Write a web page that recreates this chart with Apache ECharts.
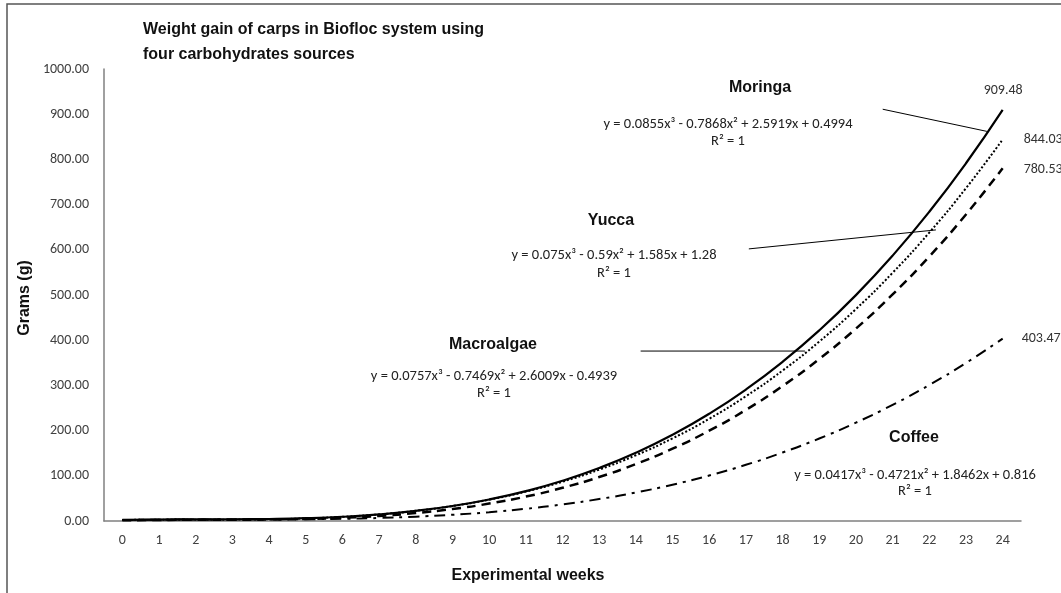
<!DOCTYPE html>
<html>
<head>
<meta charset="utf-8">
<script src="https://cdn.jsdelivr.net/npm/echarts@6/dist/echarts.min.js"></script>
<style>
html,body{margin:0;padding:0;background:#fff;}
#chart{width:1061px;height:593px;}
</style>
</head>
<body>
<div id="chart"></div>
<script>
// ---- data ----
const weeks = ['0','1','2','3','4','5','6','7','8','9','10','11','12','13','14','15','16','17','18','19','20','21','22','23','24'];
const moringa = [2.39,3.22,3.50,3.75,4.48,6.19,9.42,14.66,22.43,33.24,47.61,66.04,89.06,117.19,150.91,190.75,237.23,290.87,352.16,421.62,499.75,587.11,684.19,791.46,909.48];
const yucca = [2.35,2.69,2.75,2.98,3.83,5.75,9.19,14.60,22.43,33.13,47.15,64.94,86.95,113.63,145.43,182.80,226.19,276.05,332.83,396.98,468.95,549.19,638.15,736.28,844.03];
const macroalgae = [1.44,2.33,2.63,2.80,3.30,4.57,7.08,11.27,17.60,26.53,38.50,53.97,73.40,97.25,125.95,159.98,199.78,245.81,298.52,358.36,425.80,501.28,585.26,678.19,780.53];
const coffee = [2.23,2.95,3.23,3.32,3.46,3.90,4.91,6.72,9.59,13.77,19.50,27.05,36.65,48.56,63.02,80.30,100.64,124.28,151.49,182.50,217.57,256.96,300.90,349.66,403.47];
const seriesNames = ['Moringa','Yucca','Macroalgae','Coffee'];
const equations = [
  'y = 0.0855x³ - 0.7868x² + 2.5919x + 0.4994',
  'y = 0.075x³ - 0.59x² + 1.585x + 1.28',
  'y = 0.0757x³ - 0.7469x² + 2.6009x - 0.4939',
  'y = 0.0417x³ - 0.4721x² + 1.8462x + 0.816'
];
const rSquared = 'R² = 1';
const titleText = 'Weight gain of carps in Biofloc system using\nfour carbohydrates sources';
const yAxisTitle = 'Grams (g)';
const xAxisTitle = 'Experimental weeks';
// leader lines in data space (week, grams)
const leaderMoringa = [[20.73, 911], [23.57, 862]];
const leaderYucca = [[17.08, 602], [22.18, 644]];
const leaderMacroalgae = [[14.13, 376], [18.61, 376]];

// ---- styles ----
const labelFont = 'Carlito, Lato, "Open Sans", sans-serif';
const boldFont = '"Liberation Sans", Arial, sans-serif';
const lineStyles = [
  {type: 'solid', width: 2.2},
  {type: [2, 2], width: 2},
  {type: [9, 6], width: 2.5},
  {type: [11, 6, 3, 6], width: 2}
];
const endOffsets = [[-27, -19], [13, 0], [13, 1], [11, 0]];
const annoPos = [
  {name: [760, 88], eq: [728, 124], r: [728, 141]},
  {name: [611, 221], eq: [614, 255], r: [614, 273]},
  {name: [493, 345], eq: [494, 376], r: [494, 393]},
  {name: [914, 438], eq: [915, 475], r: [915, 491]}
];

const allData = [moringa, yucca, macroalgae, coffee];

const series = allData.map((arr, i) => ({
  name: seriesNames[i],
  type: 'line',
  smooth: true,
  symbol: 'none',
  data: arr,
  lineStyle: {color: '#000', type: lineStyles[i].type, width: lineStyles[i].width},
  z: 4 - i,
  endLabel: {
    show: true,
    formatter: p => Number(p.value).toFixed(2),
    offset: endOffsets[i],
    color: '#333',
    fontFamily: labelFont,
    fontSize: 14
  }
}));
[leaderMoringa, leaderYucca, leaderMacroalgae].forEach(seg => {
  series.push({
    type: 'line',
    xAxisIndex: 1,
    data: seg,
    symbol: 'none',
    silent: true,
    lineStyle: {color: '#000', width: 1, type: 'solid'},
    z: 5
  });
});

const graphics = [
  {type: 'rect', shape: {x: 7, y: 4, width: 1200, height: 800}, style: {fill: 'none', stroke: '#555', lineWidth: 1.5}, silent: true},
  {type: 'text', x: 25, y: 298, rotation: Math.PI / 2, style: {text: yAxisTitle, font: 'bold 16px ' + boldFont, fill: '#111', align: 'center', verticalAlign: 'middle'}},
  {type: 'text', x: 528, y: 576, style: {text: xAxisTitle, font: 'bold 16px ' + boldFont, fill: '#111', align: 'center', verticalAlign: 'middle'}}
];
annoPos.forEach((p, i) => {
  graphics.push({type: 'text', x: p.name[0], y: p.name[1], style: {text: seriesNames[i], font: 'bold 16px ' + boldFont, fill: '#111', align: 'center', verticalAlign: 'middle'}});
  graphics.push({type: 'text', x: p.eq[0], y: p.eq[1], style: {text: equations[i], font: '14.5px ' + labelFont, fill: '#222', align: 'center', verticalAlign: 'middle'}});
  graphics.push({type: 'text', x: p.r[0], y: p.r[1], style: {text: rSquared, font: '14.5px ' + labelFont, fill: '#222', align: 'center', verticalAlign: 'middle'}});
});

const chart = echarts.init(document.getElementById('chart'), null, {renderer: 'canvas'});
chart.setOption({
  animation: false,
  backgroundColor: '#fff',
  title: {
    text: titleText,
    left: 138,
    top: 12,
    textStyle: {fontFamily: boldFont, fontWeight: 'bold', fontSize: 16, color: '#111', lineHeight: 25}
  },
  grid: {left: 104, right: 40, top: 69, bottom: 72, containLabel: false},
  xAxis: [{
    type: 'category',
    data: weeks,
    boundaryGap: true,
    axisLine: {onZero: false, lineStyle: {color: '#808080', width: 1.5}},
    axisTick: {show: false},
    axisLabel: {color: '#404040', fontFamily: labelFont, fontSize: 14, margin: 12, interval: 0},
    splitLine: {show: false}
  }, {
    type: 'value',
    min: -0.5,
    max: 24.5,
    show: false
  }],
  yAxis: {
    type: 'value',
    min: 0,
    max: 1000,
    interval: 100,
    axisLine: {show: true, onZero: false, lineStyle: {color: '#808080', width: 1.5}},
    axisTick: {show: false},
    axisLabel: {color: '#404040', fontFamily: labelFont, fontSize: 14, margin: 15, formatter: v => v.toFixed(2)},
    splitLine: {show: false}
  },
  series: series,
  graphic: graphics
});
</script>
</body>
</html>
